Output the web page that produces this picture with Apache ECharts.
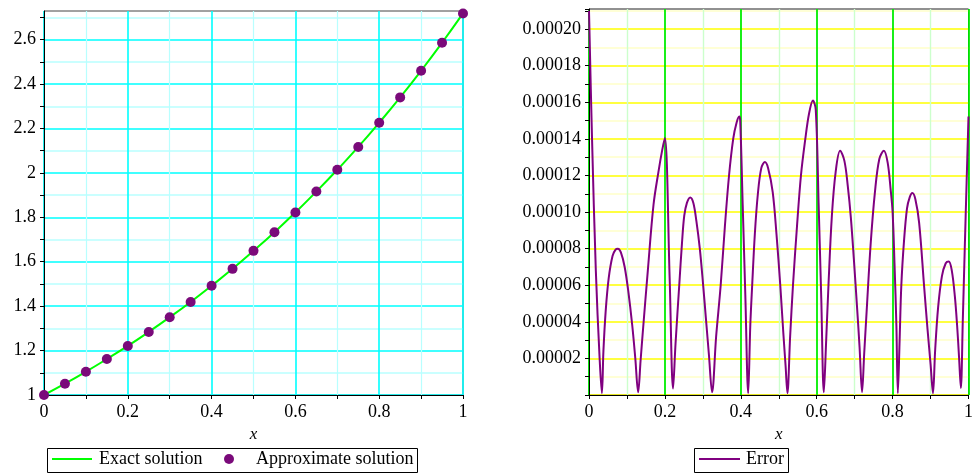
<!DOCTYPE html>
<html>
<head>
<meta charset="utf-8">
<script src="https://cdn.jsdelivr.net/npm/echarts@6/dist/echarts.min.js"></script>
<style>
html,body{margin:0;padding:0;background:#fff;}
#chart{width:976px;height:474px;}
</style>
</head>
<body>
<div id="chart"></div>
<script>
// Left panel: exact vs approximate solution
var solX = [0,0.05,0.1,0.15,0.2,0.25,0.3,0.35,0.4,0.45,0.5,0.55,0.6,0.65,0.7,0.75,0.8,0.85,0.9,0.95,1];
var exactY = [1.000,1.051,1.105,1.162,1.221,1.284,1.350,1.419,1.492,1.568,1.649,1.733,1.822,1.916,2.014,2.117,2.226,2.340,2.460,2.586,2.718];
var approxY = [1.000,1.051,1.105,1.162,1.221,1.284,1.350,1.419,1.492,1.568,1.649,1.733,1.822,1.916,2.014,2.117,2.226,2.340,2.460,2.586,2.718];

// Right panel: error curve
var errX = [0,0.008,0.018,0.028,0.034,0.038,0.044,0.052,0.062,0.070,0.076,0.084,0.094,0.104,0.114,0.122,0.1295,0.136,0.142,0.155,0.170,0.183,0.193,0.2,
  0.2125,0.2215,0.228,0.2378,0.245,0.251,0.258,0.2667,0.275,0.283,0.292,0.300,0.308,0.316,0.3243,
  0.335,0.347,0.358,0.369,0.380,0.389,0.396,0.3985,0.405,0.412,0.4195,
  0.425,0.430,0.437,0.445,0.454,0.4633,0.472,0.484,0.494,0.504,0.512,0.518,0.5228,
  0.530,0.5375,0.548,0.5585,0.570,0.580,0.590,0.5975,0.605,0.612,0.6188,
  0.625,0.631,0.640,0.650,0.6617,0.673,0.682,0.690,0.698,0.706,0.713,0.7195,
  0.725,0.7325,0.742,0.7535,0.765,0.777,0.787,0.795,0.800,0.805,0.810,0.8138,
  0.8185,0.823,0.830,0.838,0.845,0.852,0.860,0.870,0.8828,0.892,0.900,0.9064,
  0.912,0.920,0.930,0.940,0.948,0.956,0.964,0.970,0.975,0.9798,0.985,0.990,0.995,1.0];
var errY = [21.0e-5,14.0e-5,6.8e-5,2.0e-5,0.1e-5,2.4e-5,4.6e-5,6.4e-5,7.6e-5,7.95e-5,8.0e-5,7.8e-5,7.0e-5,5.6e-5,3.8e-5,2.0e-5,0.15e-5,1.9e-5,3.5e-5,6.8e-5,10.4e-5,12.2e-5,13.4e-5,14.05e-5,
  6.4e-5,0.35e-5,2.8e-5,6.0e-5,8.3e-5,9.8e-5,10.5e-5,10.8e-5,10.5e-5,9.5e-5,8.0e-5,6.2e-5,4.2e-5,2.2e-5,0.15e-5,
  3.2e-5,6.0e-5,9.2e-5,12.0e-5,14.0e-5,14.9e-5,15.22e-5,15.0e-5,10.4e-5,5.4e-5,0.1e-5,
  3.8e-5,6.0e-5,8.8e-5,11.0e-5,12.4e-5,12.73e-5,12.4e-5,11.1e-5,8.8e-5,6.0e-5,3.4e-5,1.6e-5,0.1e-5,
  3.2e-5,6.0e-5,9.2e-5,12.0e-5,14.0e-5,15.4e-5,16.1e-5,15.6e-5,10.5e-5,5.3e-5,0.15e-5,
  3.0e-5,6.0e-5,9.8e-5,12.2e-5,13.35e-5,12.8e-5,11.4e-5,9.7e-5,7.4e-5,4.9e-5,2.6e-5,0.15e-5,
  2.2e-5,4.9e-5,8.2e-5,11.1e-5,12.9e-5,13.35e-5,12.7e-5,11.2e-5,10.0e-5,7.2e-5,3.8e-5,0.1e-5,
  3.0e-5,6.0e-5,8.4e-5,10.2e-5,10.8e-5,11.04e-5,10.7e-5,9.4e-5,6.0e-5,3.6e-5,1.7e-5,0.1e-5,
  2.4e-5,4.8e-5,6.5e-5,7.2e-5,7.3e-5,6.8e-5,5.4e-5,3.8e-5,2.1e-5,0.38e-5,4.1e-5,7.9e-5,11.6e-5,15.22e-5];

var xTickLabels = ['0','0.2','0.4','0.6','0.8','1'];

function pairs(xs, ys){ var out=[]; for(var i=0;i<xs.length;i++) out.push([xs[i],ys[i]]); return out; }

var FONT = "'Liberation Serif', serif";
var tickFont = {fontFamily: FONT, fontSize: 18, color: '#000'};
var legendText = {fontFamily: FONT, fontSize: 18, color: '#000'};
var LINE_ICON = 'path://M0,0h40v2h-40z';

function xAxisDef(gi, major, minor, majorW, minorW){
  return {
    gridIndex: gi, type: 'value', min: 0, max: 1, interval: 0.2,
    axisLine: {onZero: false, lineStyle: {color: '#000', width: 1}},
    axisTick: {show: true, length: 4, lineStyle: {color: '#000'}},
    minorTick: {show: true, splitNumber: 2, length: 4, lineStyle: {color: '#000'}},
    splitLine: {show: true, lineStyle: {color: major, width: majorW}},
    minorSplitLine: {show: true, lineStyle: {color: minor, width: minorW}},
    axisLabel: Object.assign({margin: 8, formatter: function(v){ return xTickLabels[Math.round(v*5)]; }}, tickFont),
    name: 'x', nameLocation: 'middle', nameGap: 27,
    nameTextStyle: {fontFamily: FONT, fontStyle: 'italic', fontSize: 17, color: '#000'}
  };
}

var option = {
  animation: false,
  backgroundColor: '#fff',
  textStyle: {fontFamily: FONT},
  grid: [
    {left: 44, top: 11, width: 419, height: 384, show: true, borderColor: '#444', borderWidth: 1, backgroundColor: 'transparent', containLabel: false},
    {left: 589, top: 9, width: 382, height: 386, show: true, borderColor: '#222', borderWidth: 1, backgroundColor: 'transparent', containLabel: false}
  ],
  xAxis: [
    xAxisDef(0, '#00ffff', '#b8ffff', 1.6, 1.2),
    xAxisDef(1, '#00ee00', '#ccffcc', 1.8, 1.4)
  ],
  yAxis: [
    {
      gridIndex: 0, type: 'value', min: 1, max: 2.729, interval: 0.1,
      axisLine: {lineStyle: {color: '#000'}},
      axisTick: {show: true, length: 4, lineStyle: {color: '#000'}},
      splitLine: {show: true, showMaxLine: false, lineStyle: {color: ['#00ffff', '#b8ffff'], width: 1.5}},
      axisLabel: Object.assign({margin: 8, showMaxLabel: false, formatter: function(v){
        var n = Math.round(v*10); if (n % 2 !== 0 || n > 26) return ''; return String(n/10);
      }}, tickFont)
    },
    {
      gridIndex: 1, type: 'value', min: 0, max: 0.000211, interval: 0.00001,
      axisLine: {lineStyle: {color: '#000'}},
      axisTick: {show: true, length: 4, lineStyle: {color: '#000'}},
      splitLine: {show: true, showMaxLine: false, lineStyle: {color: ['#ffff00', '#ffffc8'], width: 1.6}},
      axisLabel: Object.assign({margin: 8, formatter: function(v){
        var n = Math.round(v*1e5); if (n % 2 !== 0 || n === 0 || n > 20) return ''; return v.toFixed(5);
      }}, tickFont)
    }
  ],
  legend: [
    {
      data: [{name: 'Exact solution', icon: LINE_ICON}],
      left: 52, top: 450, padding: 0, itemWidth: 40, itemHeight: 10,
      textStyle: Object.assign({padding: [0, 0, 0, 2]}, legendText)
    },
    {
      data: [{name: 'Approximate solution', icon: 'circle'}],
      left: 224, top: 450, padding: 0, itemWidth: 10, itemHeight: 10,
      textStyle: Object.assign({padding: [0, 0, 0, 17]}, legendText)
    },
    {
      data: [{name: 'Error', icon: LINE_ICON}],
      left: 699, top: 450, padding: 0, itemWidth: 41, itemHeight: 10,
      textStyle: Object.assign({padding: [0, 0, 0, 1]}, legendText)
    }
  ],
  graphic: [
    {type: 'rect', left: 45, top: 446, shape: {width: 370, height: 24}, style: {fill: 'none', stroke: '#000', lineWidth: 1}, silent: true},
    {type: 'rect', left: 692, top: 446, shape: {width: 94, height: 24}, style: {fill: 'none', stroke: '#000', lineWidth: 1}, silent: true}
  ],
  series: [
    {
      name: 'Exact solution', type: 'line', xAxisIndex: 0, yAxisIndex: 0,
      data: pairs(solX, exactY), smooth: true, symbol: 'none',
      lineStyle: {color: '#00ff00', width: 2}, itemStyle: {color: '#00ff00'}, z: 3
    },
    {
      name: 'Approximate solution', type: 'scatter', xAxisIndex: 0, yAxisIndex: 0,
      data: pairs(solX, approxY), symbol: 'circle', symbolSize: 10,
      itemStyle: {color: '#7a0a7a', opacity: 1}, z: 4
    },
    {
      name: 'Error', type: 'line', xAxisIndex: 1, yAxisIndex: 1,
      data: pairs(errX, errY), smooth: 0.35, symbol: 'none',
      lineStyle: {color: '#800080', width: 2}, itemStyle: {color: '#800080'}, z: 3
    }
  ]
};

var chart = echarts.init(document.getElementById('chart'), null, {renderer: 'canvas'});
chart.setOption(option);
</script>
</body>
</html>
